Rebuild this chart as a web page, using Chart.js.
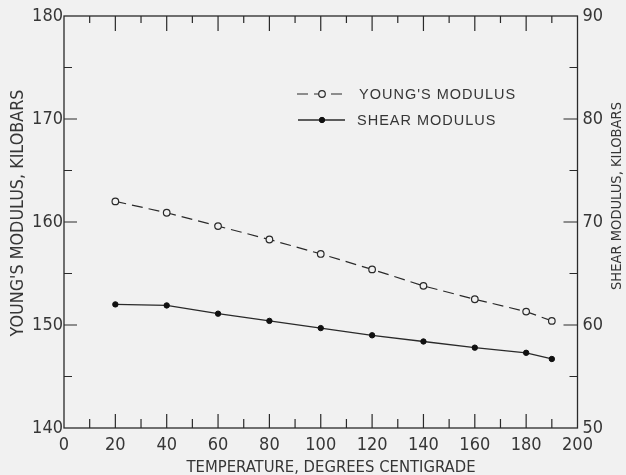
<!DOCTYPE html>
<html>
<head>
<meta charset="utf-8">
<script src="https://cdn.jsdelivr.net/npm/chart.js@4/dist/chart.umd.min.js"></script>
<style>
  html, body { margin: 0; padding: 0; background: #f1f1f1; }
  #wrap { width: 626px; height: 475px; position: relative; }
</style>
</head>
<body>
<div id="wrap"><canvas id="chart"></canvas></div>
<script>
// ---- data ----
const temperatures = [20, 40, 60, 80, 100, 120, 140, 160, 180, 190];
const youngsModulus = [162.0, 160.9, 159.6, 158.3, 156.9, 155.4, 153.8, 152.5, 151.3, 150.4];
const shearModulus = [62.0, 61.9, 61.1, 60.4, 59.7, 59.0, 58.4, 57.8, 57.3, 56.7];

const xTickLabels = [0, 20, 40, 60, 80, 100, 120, 140, 160, 180, 200];
const leftTickLabels = [140, 150, 160, 170, 180];
const rightTickLabels = [50, 60, 70, 80, 90];

const seriesNames = ["YOUNG'S MODULUS", "SHEAR MODULUS"];
const xTitle = "TEMPERATURE, DEGREES CENTIGRADE";
const leftTitle = "YOUNG'S MODULUS, KILOBARS";
const rightTitle = "SHEAR MODULUS, KILOBARS";

// ---- styling ----
const BG = '#f1f1f1';
const INK = '#2a2a2a';
const TXT = '#363636';
const NARROW = '"Liberation Sans Narrow", "Arial Narrow", "DejaVu Sans Condensed", "Liberation Sans", sans-serif';
const SANS = '"Liberation Sans", Arial, sans-serif';

const toPoints = (xs, ys) => xs.map((x, i) => ({ x: x, y: ys[i] }));

const bgPlugin = {
  id: 'bg',
  beforeDraw(chart) {
    const ctx = chart.ctx;
    ctx.save();
    ctx.fillStyle = BG;
    ctx.fillRect(0, 0, chart.width, chart.height);
    ctx.restore();
  }
};

// frame + inward tick marks, placed through the chart's scales
const framePlugin = {
  id: 'frame',
  afterDraw(chart) {
    const { ctx, chartArea: a, scales } = chart;
    const x = scales.x, yL = scales.yL, yR = scales.yR;
    ctx.save();
    ctx.strokeStyle = INK;
    ctx.lineWidth = 1.3;
    ctx.strokeRect(a.left, a.top, a.right - a.left, a.bottom - a.top);
    ctx.lineWidth = 1.2;
    ctx.beginPath();
    for (let v = 10; v < 200; v += 10) {
      const px = x.getPixelForValue(v);
      const major = v % 20 === 0;
      ctx.moveTo(px, a.bottom); ctx.lineTo(px, a.bottom - (major ? 14 : 9));
      ctx.moveTo(px, a.top); ctx.lineTo(px, a.top + (major ? 15 : 7));
    }
    for (let v = 145; v < 180; v += 5) {
      const py = yL.getPixelForValue(v);
      const major = v % 10 === 0;
      ctx.moveTo(a.left, py); ctx.lineTo(a.left + (major ? 13 : 8), py);
    }
    for (let v = 55; v < 90; v += 5) {
      const py = yR.getPixelForValue(v);
      const major = v % 10 === 0;
      ctx.moveTo(a.right, py); ctx.lineTo(a.right - (major ? 14 : 8), py);
    }
    ctx.stroke();
    ctx.restore();
  }
};

// axis titles + legend
const textPlugin = {
  id: 'texts',
  afterDraw(chart) {
    const { ctx } = chart;
    ctx.save();
    ctx.fillStyle = TXT;
    ctx.textAlign = 'center';
    ctx.textBaseline = 'middle';

    ctx.font = '16.5px ' + NARROW;
    ctx.fillText(xTitle, 331, 468);

    ctx.save();
    ctx.translate(18, 213);
    ctx.rotate(-Math.PI / 2);
    ctx.font = '17.8px ' + NARROW;
    ctx.fillText(leftTitle, 0, 0);
    ctx.restore();

    ctx.save();
    ctx.translate(617.5, 196);
    ctx.rotate(-Math.PI / 2);
    ctx.font = '14.6px ' + NARROW;
    ctx.fillText(rightTitle, 0, 0);
    ctx.restore();

    // legend
    const ds = chart.data.datasets;
    const rows = [
      { y: 94, x0: 297, x1: 348, xm: 322, tx: 359, d: ds[0] },
      { y: 120, x0: 298, x1: 345, xm: 322, tx: 357, d: ds[1] }
    ];
    rows.forEach(r => {
      ctx.strokeStyle = r.d.borderColor;
      ctx.lineWidth = r.d.borderWidth;
      ctx.setLineDash(r.d.borderDash || []);
      ctx.beginPath();
      ctx.moveTo(r.x0, r.y); ctx.lineTo(r.x1, r.y);
      ctx.stroke();
      ctx.setLineDash([]);
      ctx.beginPath();
      ctx.arc(r.xm, r.y, r.d.pointRadius, 0, Math.PI * 2);
      ctx.fillStyle = r.d.pointBackgroundColor;
      ctx.fill();
      ctx.lineWidth = r.d.pointBorderWidth;
      ctx.strokeStyle = r.d.pointBorderColor;
      ctx.stroke();
      ctx.fillStyle = TXT;
      ctx.textAlign = 'left';
      ctx.font = '14.5px ' + SANS;
      ctx.letterSpacing = '1px';
      ctx.fillText(r.d.label, r.tx, r.y + 1);
      ctx.letterSpacing = '0px';
    });
    ctx.restore();
  }
};

const tickFont = { family: NARROW, size: 18 };

new Chart(document.getElementById('chart'), {
  type: 'line',
  data: {
    datasets: [
      {
        label: seriesNames[0],
        data: toPoints(temperatures, youngsModulus),
        yAxisID: 'yL',
        borderColor: INK,
        borderWidth: 1.2,
        borderDash: [11, 6],
        pointStyle: 'circle',
        pointRadius: 3.3,
        pointBorderWidth: 1.2,
        pointBackgroundColor: BG,
        pointBorderColor: INK,
        tension: 0
      },
      {
        label: seriesNames[1],
        data: toPoints(temperatures, shearModulus),
        yAxisID: 'yR',
        borderColor: INK,
        borderWidth: 1.3,
        pointStyle: 'circle',
        pointRadius: 2.7,
        pointBorderWidth: 1,
        pointBackgroundColor: '#111',
        pointBorderColor: '#111',
        tension: 0
      }
    ]
  },
  options: {
    responsive: true,
    maintainAspectRatio: false,
    animation: false,
    devicePixelRatio: 1,
    layout: { padding: { top: 16, left: 0, right: 0, bottom: 0 } },
    plugins: { legend: { display: false }, tooltip: { enabled: false } },
    scales: {
      x: {
        type: 'linear', position: 'bottom', min: 0, max: 200,
        afterBuildTicks: s => { s.ticks = xTickLabels.map(v => ({ value: v })); },
        afterFit: s => { s.height = 47; },
        grid: { display: false, drawTicks: false },
        border: { display: false },
        ticks: { color: TXT, font: tickFont, padding: 7, maxRotation: 0, autoSkip: false }
      },
      yL: {
        type: 'linear', position: 'left', min: 140, max: 180,
        afterBuildTicks: s => { s.ticks = leftTickLabels.map(v => ({ value: v })); },
        afterFit: s => { s.width = 64; },
        grid: { display: false, drawTicks: false },
        border: { display: false },
        ticks: { color: TXT, font: tickFont, padding: 1 }
      },
      yR: {
        type: 'linear', position: 'right', min: 50, max: 90,
        afterBuildTicks: s => { s.ticks = rightTickLabels.map(v => ({ value: v })); },
        afterFit: s => { s.width = 48.5; },
        grid: { display: false, drawTicks: false },
        border: { display: false },
        ticks: { color: TXT, font: tickFont, padding: 5 }
      }
    }
  },
  plugins: [bgPlugin, framePlugin, textPlugin]
});
</script>
</body>
</html>
